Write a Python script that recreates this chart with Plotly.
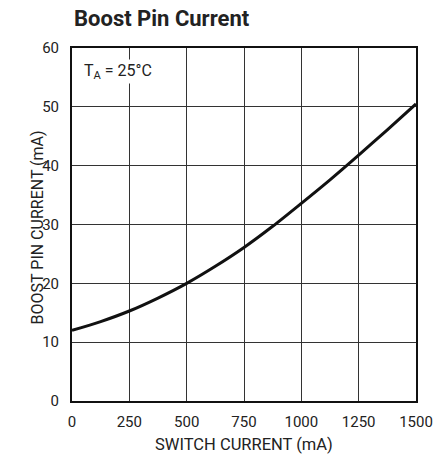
import plotly.graph_objects as go

switch_current = [0, 125, 250, 375, 500, 625, 750, 875, 1000, 1125, 1250, 1375, 1500]
boost_current = [12.0, 13.5, 15.3, 17.5, 20.0, 22.9, 26.1, 29.7, 33.6, 37.6, 41.8, 46.1, 50.5]
x_ticks = [0, 250, 500, 750, 1000, 1250, 1500]
y_ticks = [0, 10, 20, 30, 40, 50, 60]

FONT = "Roboto, Liberation Sans, sans-serif"
W, H = 445, 460
L, R, T, B = 72, 20, 48, 59
PW, PH = W - L - R, H - T - B

fig = go.Figure()
fig.add_trace(go.Scatter(x=switch_current, y=boost_current, mode="lines",
                         line=dict(color="#111", width=3, shape="spline", smoothing=0.8),
                         showlegend=False, hoverinfo="skip"))

axis_common = dict(showgrid=True, gridcolor="#333", gridwidth=1,
                   showline=True, linecolor="#111", linewidth=2, mirror=True,
                   zeroline=False, ticks="", tickfont=dict(family=FONT, size=15, color="#222"))
fig.update_xaxes(range=[0, 1500], tickvals=x_ticks, ticklabelstandoff=6, **axis_common)
fig.update_yaxes(range=[0, 60], tickvals=y_ticks, ticklabelstandoff=8, **axis_common)

fig.update_layout(
    width=W, height=H,
    margin=dict(l=L, r=R, t=T, b=B, pad=0),
    plot_bgcolor="white", paper_bgcolor="white",
    font=dict(family=FONT, color="#222"),
    annotations=[
        dict(text="<b>Boost Pin Current</b>", xref="paper", yref="paper",
             x=0, y=1 + 29 / PH, xanchor="left", yanchor="middle",
             showarrow=False, font=dict(family=FONT, size=22, color="#222")),
        dict(text="SWITCH CURRENT (mA)", xref="paper", yref="paper",
             x=0.5, y=-43 / PH, xanchor="center", yanchor="middle",
             showarrow=False, font=dict(family=FONT, size=16.5, color="#222")),
        dict(text="BOOST PIN CURRENT (mA)", xref="paper", yref="paper",
             x=-35 / PW, y=0.5 - 3 / PH, xanchor="center", yanchor="middle",
             textangle=-90, showarrow=False, font=dict(family=FONT, size=16, color="#222")),
        dict(text="T<sub>A</sub> = 25°C", x=45, y=56, xanchor="left", yanchor="middle",
             showarrow=False, font=dict(family=FONT, size=16, color="#222"),
             bgcolor="white"),
    ],
)
fig.write_html("out.html", config={"responsive": False, "displayModeBar": False},
               post_script="document.body.style.margin='0';document.body.style.overflow='hidden';")
